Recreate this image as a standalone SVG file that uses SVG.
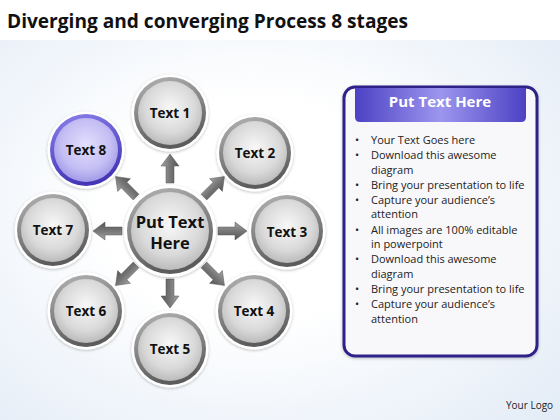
<svg xmlns="http://www.w3.org/2000/svg" width="560" height="420" viewBox="0 0 560 420">
<defs>
  <radialGradient id="bg" cx="0.45" cy="0.5" r="0.75">
    <stop offset="0.35" stop-color="#ffffff"/>
    <stop offset="1" stop-color="#e2ebf6"/>
  </radialGradient>
  <linearGradient id="ring" x1="0" y1="0" x2="0.3" y2="1">
    <stop offset="0" stop-color="#b4b4b4"/>
    <stop offset="1" stop-color="#5c5c5c"/>
  </linearGradient>
  <radialGradient id="fill" cx="0.5" cy="0.42" r="0.6">
    <stop offset="0" stop-color="#f8f8f8"/>
    <stop offset="0.65" stop-color="#d9d9d9"/>
    <stop offset="1" stop-color="#b8b8b8"/>
  </radialGradient>
  <linearGradient id="ringP" x1="0" y1="0" x2="0.3" y2="1">
    <stop offset="0" stop-color="#8a80ea"/>
    <stop offset="1" stop-color="#4436b6"/>
  </linearGradient>
  <radialGradient id="fillP" cx="0.5" cy="0.42" r="0.6">
    <stop offset="0" stop-color="#e2dffc"/>
    <stop offset="0.65" stop-color="#c4bef4"/>
    <stop offset="1" stop-color="#9f96e6"/>
  </radialGradient>
  <linearGradient id="arr" x1="0" y1="0" x2="0" y2="1">
    <stop offset="0" stop-color="#a4a4a4"/>
    <stop offset="0.5" stop-color="#777777"/>
    <stop offset="1" stop-color="#555555"/>
  </linearGradient>
  <linearGradient id="hdr" x1="0" y1="0" x2="1" y2="0">
    <stop offset="0" stop-color="#4c41c4"/>
    <stop offset="0.5" stop-color="#9d96ee"/>
    <stop offset="1" stop-color="#4c41c4"/>
  </linearGradient>
  <filter id="sh" x="-20%" y="-20%" width="140%" height="140%">
    <feDropShadow dx="0" dy="1" stdDeviation="1.5" flood-color="#000" flood-opacity="0.25"/>
  </filter>
  <polygon id="arrow" points="0,-4 17,-4 17,-9 29,0 17,9 17,4 0,4"/>
</defs>
<style>
  .halo { fill: #ffffff; filter: url(#sh); }
  .ring { fill: url(#ring); }
  .in { fill: url(#fill); }
  .ringP { fill: url(#ringP); }
  .inP { fill: url(#fillP); }
  .lbl { font-family: "Open Sans", "Liberation Sans", sans-serif; font-weight: 700; font-size: 13.5px; fill: #111; text-anchor: middle; }
  .ctr { font-family: "Open Sans", "Liberation Sans", sans-serif; font-weight: 700; font-size: 16.5px; fill: #111; text-anchor: middle; }
  .arw { fill: url(#arr); stroke: #555; stroke-width: 0.5; }
  .bul { font-family: "Open Sans", "Liberation Sans", sans-serif; font-size: 11px; fill: #222; }
</style>

<rect x="0" y="0" width="560" height="420" fill="url(#bg)"/>
<rect x="0" y="0" width="560" height="40" fill="#ffffff"/>

<text x="7" y="28" font-family="Open Sans, Liberation Sans, sans-serif" font-weight="700" font-size="20" fill="#111" textLength="401" lengthAdjust="spacingAndGlyphs">Diverging and converging Process 8 stages</text>

<g id="connectors">
  <use href="#arrow" class="arw" transform="translate(170,231) rotate(-90) translate(48,0)"/>
  <use href="#arrow" class="arw" transform="translate(170,231) rotate(-45) translate(48,0)"/>
  <use href="#arrow" class="arw" transform="translate(170,231) rotate(0) translate(48,0)"/>
  <use href="#arrow" class="arw" transform="translate(170,231) rotate(45) translate(48,0)"/>
  <use href="#arrow" class="arw" transform="translate(170,231) rotate(90) translate(48,0)"/>
  <use href="#arrow" class="arw" transform="translate(170,231) rotate(135) translate(48,0)"/>
  <use href="#arrow" class="arw" transform="translate(170,231) rotate(180) translate(48,0)"/>
  <use href="#arrow" class="arw" transform="translate(170,231) rotate(-135) translate(48,0)"/>
</g>

<g id="center">
  <circle cx="170" cy="231" r="46" class="halo"/>
  <circle cx="170" cy="231" r="43" class="ring"/>
  <circle cx="170" cy="231" r="39" class="in"/>
  <text x="170" y="228" class="ctr">Put Text</text>
  <text x="170" y="249" class="ctr">Here</text>
</g>

<g id="node1">
  <circle cx="170" cy="113" r="38.5" class="halo"/>
  <circle cx="170" cy="113" r="36" class="ring"/>
  <circle cx="170" cy="113" r="32" class="in"/>
  <text x="170" y="118" class="lbl">Text 1</text>
</g>
<g id="node2">
  <circle cx="255" cy="153" r="38.5" class="halo"/>
  <circle cx="255" cy="153" r="36" class="ring"/>
  <circle cx="255" cy="153" r="32" class="in"/>
  <text x="255" y="158" class="lbl">Text 2</text>
</g>
<g id="node3">
  <circle cx="287" cy="231" r="38.5" class="halo"/>
  <circle cx="287" cy="231" r="36" class="ring"/>
  <circle cx="287" cy="231" r="32" class="in"/>
  <text x="287" y="237" class="lbl">Text 3</text>
</g>
<g id="node4">
  <circle cx="254" cy="311" r="38.5" class="halo"/>
  <circle cx="254" cy="311" r="36" class="ring"/>
  <circle cx="254" cy="311" r="32" class="in"/>
  <text x="254" y="316" class="lbl">Text 4</text>
</g>
<g id="node5">
  <circle cx="170" cy="349" r="38.5" class="halo"/>
  <circle cx="170" cy="349" r="36" class="ring"/>
  <circle cx="170" cy="349" r="32" class="in"/>
  <text x="170" y="354" class="lbl">Text 5</text>
</g>
<g id="node6">
  <circle cx="86" cy="311" r="38.5" class="halo"/>
  <circle cx="86" cy="311" r="36" class="ring"/>
  <circle cx="86" cy="311" r="32" class="in"/>
  <text x="86" y="316" class="lbl">Text 6</text>
</g>
<g id="node7">
  <circle cx="53" cy="230" r="38.5" class="halo"/>
  <circle cx="53" cy="230" r="36" class="ring"/>
  <circle cx="53" cy="230" r="32" class="in"/>
  <text x="53" y="235" class="lbl">Text 7</text>
</g>
<g id="node8">
  <circle cx="86" cy="150" r="38.5" class="halo"/>
  <circle cx="86" cy="150" r="36" class="ringP"/>
  <circle cx="86" cy="150" r="32" class="inP"/>
  <text x="86" y="155" class="lbl">Text 8</text>
</g>

<g id="panel">
  <rect x="344" y="87" width="193" height="269" rx="11" fill="#f8f8fa" stroke="#2e2488" stroke-width="3" filter="url(#sh)"/>
  <path d="M355,88 H526 V117 Q526,122 521,122 H360 Q355,122 355,117 Z" fill="url(#hdr)"/>
  <text x="440" y="107" font-family="Open Sans, Liberation Sans, sans-serif" font-weight="700" font-size="15" fill="#ffffff" text-anchor="middle">Put Text Here</text>
  <g class="bul">
    <text x="355" y="144">•</text><text x="371" y="144">Your Text Goes here</text>
    <text x="355" y="159">•</text><text x="371" y="159">Download this awesome</text>
    <text x="371" y="174">diagram</text>
    <text x="355" y="189">•</text><text x="371" y="189">Bring your presentation to life</text>
    <text x="355" y="204">•</text><text x="371" y="204">Capture your audience’s</text>
    <text x="371" y="218">attention</text>
    <text x="355" y="234">•</text><text x="371" y="234">All images are 100% editable</text>
    <text x="371" y="248">in powerpoint</text>
    <text x="355" y="263">•</text><text x="371" y="263">Download this awesome</text>
    <text x="371" y="278">diagram</text>
    <text x="355" y="293">•</text><text x="371" y="293">Bring your presentation to life</text>
    <text x="355" y="308">•</text><text x="371" y="308">Capture your audience’s</text>
    <text x="371" y="323">attention</text>
  </g>
</g>

<text x="506" y="409" font-family="Open Sans, Liberation Sans, sans-serif" font-size="10" fill="#222">Your Logo</text>
</svg>
